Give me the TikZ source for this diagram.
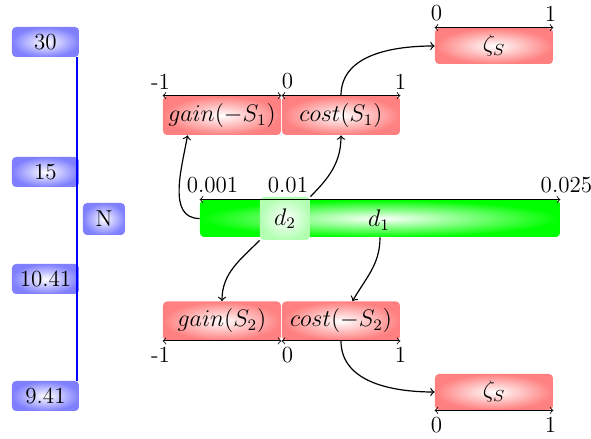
\documentclass[tikz,border=0pt]{standalone}
\usepackage{amsmath}
\usepackage{amssymb}
\usetikzlibrary{calc}

\begin{document}
\begin{tikzpicture}[x=0.5pt,y=-0.5pt,inner sep=0pt,font=\fontsize{11.5}{14}\selectfont,
  valbox/.style={rounded corners=2pt,inner color=white,outer color=blue!50,
    minimum width=33.5pt,minimum height=15pt},
  scorebox/.style={rounded corners=2pt,inner color=white,outer color=red!50,
    minimum width=59pt,minimum height=19.5pt},
  span/.style={<->,shorten <=0pt,shorten >=0pt},
  link/.style={->,semithick}]
\useasboundingbox (0,0) rectangle (591,439);

% values of N
\node[valbox] (n30) at (45.5,42) {30};
\node[valbox] (n15) at (45.5,172) {15};
\node[valbox] (n1041) at (45.5,279) {10.41};
\node[valbox] (n941) at (45.5,396) {9.41};
\node[valbox,minimum width=21pt,minimum height=16pt] (nN) at (104,219) {N};
\draw[blue,line width=1pt] ([xshift=-1]n30.south east) -- ([xshift=-1]n941.north east);

% top scores
\node[scorebox] (gainA) at (222,115.5) {$gain(-S_1)$};
\node[scorebox] (costA) at (341,115.5) {$cost(S_1)$};
\node[scorebox,minimum height=18pt] (zetaA) at (494,46) {$\zeta_S$};
\draw[span] (gainA.north west) -- (gainA.north east);
\draw[span] (costA.north west) -- (costA.north east);
\draw[span] (zetaA.north west) -- (zetaA.north east);
\node[anchor=south] at (gainA.north west) [xshift=-1pt,yshift=3pt] {-1};
\node[anchor=south] at (costA.north west) [xshift=3pt,yshift=3pt] {0};
\node[anchor=south] at (costA.north east) [yshift=3pt] {1};
\node[anchor=south] at (zetaA.north west) [xshift=1pt,yshift=3pt] {0};
\node[anchor=south] at (zetaA.north east) [xshift=-1.5pt,yshift=3pt] {1};

% step sizes
\node[rounded corners=2pt,inner color=white,outer color=green,
  minimum width=180pt,minimum height=18.5pt] (bar) at (380,218.5) {};
\node[rounded corners=2pt,inner color=white,outer color=green!30,
  minimum width=25pt,minimum height=21.5pt] (dtwo) at (285,218.5) {\raisebox{-3pt}{$d_2$}};
\node (done) at (379,220) {$d_1$};
\draw[span] (bar.north west) -- (bar.north east);
\node[anchor=south] at (bar.north west) [xshift=6.5pt,yshift=3pt] {0.001};
\node[anchor=south] at (dtwo.north |- bar.north) [xshift=1.5pt,yshift=3pt] {0.01};
\node[anchor=south] at (bar.north east) [xshift=3pt,yshift=3pt] {0.025};

% bottom scores
\node[scorebox] (gainB) at (222,321) {$gain(S_2)$};
\node[scorebox] (costB) at (341,321) {$cost(-S_2)$};
\node[scorebox,minimum height=18pt] (zetaB) at (494,392) {$\zeta_S$};
\draw[span] (gainB.south west) -- (gainB.south east);
\draw[span] (costB.south west) -- (costB.south east);
\draw[span] (zetaB.south west) -- (zetaB.south east);
\node[anchor=north] at (gainB.south west) [xshift=-1pt,yshift=-3pt] {-1};
\node[anchor=north] at (costB.south west) [xshift=3pt,yshift=-3pt] {0};
\node[anchor=north] at (costB.south east) [yshift=-3pt] {1};
\node[anchor=north] at (zetaB.south west) [xshift=1pt,yshift=-3pt] {0};
\node[anchor=north] at (zetaB.south east) [xshift=-1.5pt,yshift=-3pt] {1};

% links
\draw[link] (bar.west) to[out=180,in=-100] (gainA.-150);
\draw[link] (dtwo.north east) to[out=45,in=-90] (costA.south);
\draw[link] (costA.north) to[out=90,in=180] (zetaA.west);
\draw[link] (dtwo.south west) to[out=-135,in=90] (gainB.north);
\draw[link] (bar.south) to[out=-90,in=60] (costB.60);
\draw[link] (costB.south) to[out=-90,in=180] (zetaB.west);
\end{tikzpicture}
\end{document}
